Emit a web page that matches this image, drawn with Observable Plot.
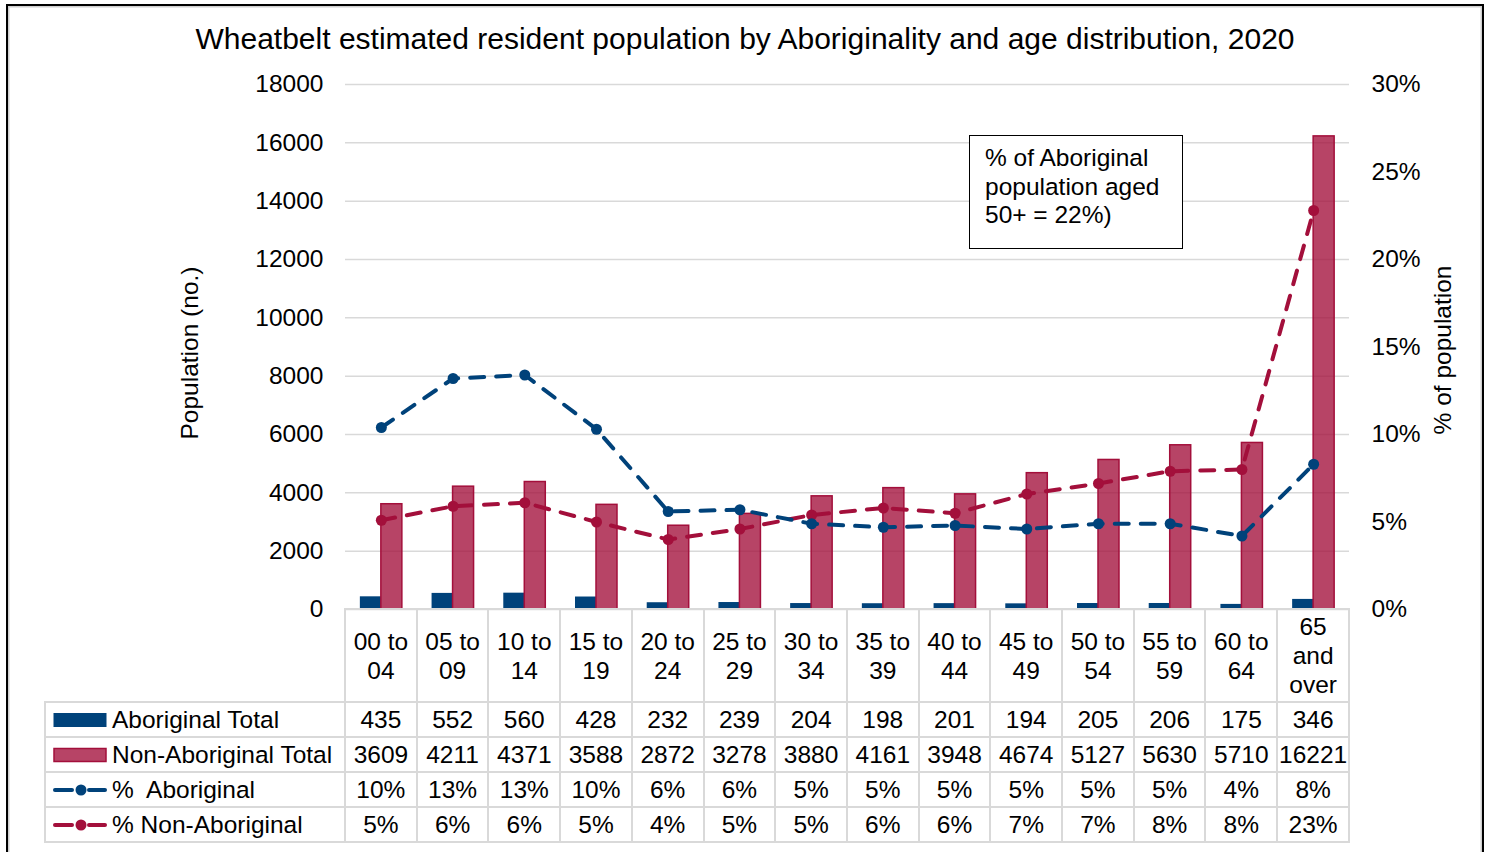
<!DOCTYPE html>
<html>
<head>
<meta charset="utf-8">
<script src="https://cdn.jsdelivr.net/npm/d3@7"></script>
<script src="https://cdn.jsdelivr.net/npm/@observablehq/plot@0.6"></script>
<style>
  html, body { margin: 0; padding: 0; background: #fff; }
  body { font-family: "Liberation Sans", Arial, sans-serif; color: #000; }
  #wrap { position: relative; width: 1490px; height: 852px; overflow: hidden; background: #fff; }
  #frame { position: absolute; left: 6px; top: 4px; width: 1474px; height: 860px; border: 2.5px solid #000; box-shadow: inset 0 0 0 1.5px #cfcfcf; }
  #title { position: absolute; left: 0; width: 1490px; top: 22px; text-align: center; font-size: 30px; white-space: nowrap; }
  #chart { position: absolute; left: 0; top: 60px; }
  #note { position: absolute; left: 969px; top: 135px; width: 212px; height: 112px; border: 1.5px solid #000; box-sizing: content-box; padding: 0; background: #fff; }
  #note div { position: absolute; left: 15px; top: 8px; font-size: 24.5px; line-height: 28.5px; white-space: nowrap; }
  #tbl { position: absolute; left: 44px; top: 608px; border-collapse: collapse; table-layout: fixed; width: 1306px; font-size: 24.5px; }
  #tbl td { border: 2px solid #d9d9d9; padding: 0; text-align: center; vertical-align: middle; white-space: nowrap; overflow: visible; }
  #tbl td.blank { border-top: none; border-left: none; }
  #tbl tr.hdr td { height: 91px; line-height: 29px; }
  #tbl tr.val td { height: 33px; line-height: 33px; }
  #tbl td.leg { text-align: left; padding-left: 7px; }
  #tbl td.leg svg { vertical-align: middle; margin-right: 5px; position: relative; top: -2px; }
  #tbl td.leg span { white-space: pre; }
</style>
</head>
<body>
<div id="wrap">
  <div id="frame"></div>
  <div id="title">Wheatbelt estimated resident population by Aboriginality and age distribution, 2020</div>
  <div id="chart"></div>
  <div id="note"><div>% of Aboriginal<br>population aged<br>50+ = 22%)</div></div>
  <table id="tbl"></table>
</div>
<script>
// ---- data ----
const ageGroups = ["00 to 04","05 to 09","10 to 14","15 to 19","20 to 24","25 to 29","30 to 34","35 to 39","40 to 44","45 to 49","50 to 54","55 to 59","60 to 64","65 and over"];
const ageLabels = ["00 to\n04","05 to\n09","10 to\n14","15 to\n19","20 to\n24","25 to\n29","30 to\n34","35 to\n39","40 to\n44","45 to\n49","50 to\n54","55 to\n59","60 to\n64","65\nand\nover"];
const aboriginalTotal = [435,552,560,428,232,239,204,198,201,194,205,206,175,346];
const nonAboriginalTotal = [3609,4211,4371,3588,2872,3278,3880,4161,3948,4674,5127,5630,5710,16221];
const pctAboriginal = [10.4,13.2,13.4,10.3,5.6,5.7,4.9,4.7,4.8,4.6,4.9,4.9,4.2,8.3];
const pctNonAboriginal = [5.1,5.9,6.1,5.0,4.0,4.6,5.4,5.8,5.5,6.6,7.2,7.9,8.0,22.8];
const pctAboriginalLabels = ["10%","13%","13%","10%","6%","6%","5%","5%","5%","5%","5%","5%","4%","8%"];
const pctNonAboriginalLabels = ["5%","6%","6%","5%","4%","5%","5%","6%","6%","7%","7%","8%","8%","23%"];
const leftTicks = [0,2000,4000,6000,8000,10000,12000,14000,16000,18000];
const rightTicks = [0,5,10,15,20,25,30];
const seriesNames = ["Aboriginal Total","Non-Aboriginal Total","%  Aboriginal","% Non-Aboriginal"];

// ---- style ----
const BLUE = "#00427a";
const RED = "#a30f3b";
const W = 1490, ML = 345, MR = 141;
const bw = (W - ML - MR) / ageGroups.length;
const barW = 21;
const k = 18000 / 30; // secondary axis: 30% == 18000

const rows = ageGroups.map((age, i) => ({
  age,
  ab: aboriginalTotal[i],
  non: nonAboriginalTotal[i],
  pAb: pctAboriginal[i],
  pNon: pctNonAboriginal[i]
}));

const chart = Plot.plot({
  width: W,
  height: 551,
  marginTop: 24,
  marginBottom: 2,
  marginLeft: ML,
  marginRight: MR,
  x: {type: "band", domain: ageGroups, paddingInner: 0, paddingOuter: 0, round: false, axis: null},
  y: {domain: [0, 18000]},
  style: {fontFamily: "'Liberation Sans', Arial, sans-serif", fontSize: "24.5px", color: "#000", background: "transparent", overflow: "visible"},
  marks: [
    Plot.gridY(leftTicks, {stroke: "#d9d9d9", strokeOpacity: 1, strokeWidth: 1.5}),
    Plot.axisY(leftTicks, {anchor: "left", tickSize: 0, tickPadding: 22, tickFormat: d => String(d), label: null}),
    Plot.axisY(rightTicks.map(p => p * k), {anchor: "right", tickSize: 0, tickPadding: 22, tickFormat: d => `${Math.round(d / k)}%`, label: null}),
    Plot.text(["Population (no.)"], {frameAnchor: "left", textAnchor: "middle", dx: -155, dy: 6, rotate: -90, text: d => d, fontSize: 24.5}),
    Plot.text(["% of population"], {frameAnchor: "right", textAnchor: "middle", dx: 94, dy: 3, rotate: -90, text: d => d, fontSize: 24.5}),
    Plot.barY(rows, {x: "age", y: "ab", fill: BLUE, insetLeft: bw / 2 - barW, insetRight: bw / 2}),
    Plot.barY(rows, {x: "age", y: "non", fill: RED, fillOpacity: 0.78, stroke: RED, strokeWidth: 1.5, insetLeft: bw / 2, insetRight: bw / 2 - barW}),
    Plot.line(rows, {x: "age", y: d => d.pNon * k, stroke: RED, strokeWidth: 4, strokeDasharray: "14,12", strokeLinecap: "round"}),
    Plot.dot(rows, {x: "age", y: d => d.pNon * k, r: 5.5, fill: RED}),
    Plot.line(rows, {x: "age", y: d => d.pAb * k, stroke: BLUE, strokeWidth: 4, strokeDasharray: "14,12", strokeLinecap: "round"}),
    Plot.dot(rows, {x: "age", y: d => d.pAb * k, r: 5.5, fill: BLUE})
  ]
});
document.getElementById("chart").appendChild(chart);

// ---- data table ----
const tbl = document.getElementById("tbl");
const colgroup = document.createElement("colgroup");
const c0 = document.createElement("col"); c0.style.width = "300px"; colgroup.appendChild(c0);
ageGroups.forEach(() => { const c = document.createElement("col"); c.style.width = bw + "px"; colgroup.appendChild(c); });
tbl.appendChild(colgroup);

const hdr = document.createElement("tr"); hdr.className = "hdr";
const blank = document.createElement("td"); blank.className = "blank"; hdr.appendChild(blank);
ageLabels.forEach(l => { const td = document.createElement("td"); td.innerHTML = l.split("\n").join("<br>"); hdr.appendChild(td); });
tbl.appendChild(hdr);

const swatches = [
  `<svg width="54" height="16"><rect x="0.5" y="1" width="53" height="14" fill="${BLUE}"/></svg>`,
  `<svg width="54" height="16"><rect x="1" y="1.5" width="52" height="13" fill="${RED}" fill-opacity="0.78" stroke="${RED}" stroke-width="1.5"/></svg>`,
  `<svg width="54" height="16"><line x1="2" y1="8" x2="19" y2="8" stroke="${BLUE}" stroke-width="4" stroke-linecap="round"/><circle cx="28" cy="8" r="5.5" fill="${BLUE}"/><line x1="36" y1="8" x2="52" y2="8" stroke="${BLUE}" stroke-width="4" stroke-linecap="round"/></svg>`,
  `<svg width="54" height="16"><line x1="2" y1="8" x2="19" y2="8" stroke="${RED}" stroke-width="4" stroke-linecap="round"/><circle cx="28" cy="8" r="5.5" fill="${RED}"/><line x1="36" y1="8" x2="52" y2="8" stroke="${RED}" stroke-width="4" stroke-linecap="round"/></svg>`
];
const tableValues = [aboriginalTotal, nonAboriginalTotal, pctAboriginalLabels, pctNonAboriginalLabels];
seriesNames.forEach((name, r) => {
  const tr = document.createElement("tr"); tr.className = "val";
  const lg = document.createElement("td"); lg.className = "leg";
  lg.innerHTML = swatches[r] + `<span>${name}</span>`;
  tr.appendChild(lg);
  tableValues[r].forEach(v => { const td = document.createElement("td"); td.textContent = v; tr.appendChild(td); });
  tbl.appendChild(tr);
});
</script>
</body>
</html>
